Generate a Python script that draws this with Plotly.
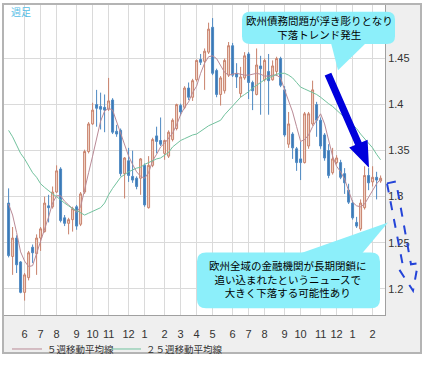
import plotly.graph_objects as go

# ---------------- data ----------------
open_ = [1.293,1.235,1.255,1.229,1.196,1.212,1.245,1.238,1.255,1.262,
         1.290,1.289,1.305,1.330,1.277,1.271,1.275,1.289,1.270,1.305,
         1.349,1.379,1.400,1.398,1.397,1.395,1.405,1.371,1.372,1.325,
         1.339,1.322,1.320,1.320,1.334,1.288,1.334,1.366,1.361,1.347,
         1.344,1.362,1.374,1.399,1.397,1.418,1.408,1.427,1.449,1.447,
         1.457,1.484,1.437,1.411,1.415,1.432,1.464,1.434,1.412,1.429,
         1.455,1.424,1.411,1.442,1.427,1.436,1.427,1.436,1.450,1.416,
         1.357,1.368,1.352,1.341,1.337,1.355,1.379,1.400,1.383,1.367,
         1.350,1.326,1.337,1.337,1.325,1.307,1.293,1.272,1.265,1.288,
         1.323,1.316,1.321,1.317]
high = [1.309,1.267,1.258,1.230,1.217,1.241,1.248,1.259,1.267,1.300,
        1.302,1.311,1.334,1.332,1.280,1.277,1.289,1.291,1.305,1.351,
        1.381,1.402,1.416,1.413,1.411,1.429,1.407,1.378,1.374,1.343,
        1.353,1.350,1.322,1.342,1.336,1.344,1.364,1.376,1.386,1.362,
        1.372,1.385,1.401,1.401,1.420,1.424,1.428,1.449,1.455,1.461,
        1.489,1.494,1.439,1.431,1.450,1.468,1.467,1.445,1.441,1.457,
        1.457,1.426,1.461,1.453,1.450,1.455,1.448,1.452,1.452,1.420,
        1.392,1.370,1.354,1.360,1.392,1.392,1.426,1.403,1.386,1.369,
        1.357,1.353,1.345,1.340,1.331,1.314,1.296,1.278,1.297,1.333,
        1.331,1.333,1.327,1.323]
low = [1.234,1.215,1.217,1.195,1.187,1.209,1.228,1.215,1.241,1.261,
       1.272,1.287,1.304,1.272,1.268,1.259,1.262,1.264,1.268,1.303,
       1.347,1.378,1.376,1.373,1.370,1.393,1.368,1.365,1.322,1.298,
       1.316,1.315,1.308,1.302,1.289,1.287,1.332,1.347,1.355,1.340,
       1.342,1.360,1.372,1.388,1.395,1.405,1.404,1.425,1.443,1.416,
       1.455,1.432,1.408,1.399,1.412,1.430,1.430,1.418,1.408,1.427,
       1.406,1.394,1.410,1.389,1.425,1.389,1.426,1.431,1.419,1.365,
       1.353,1.341,1.328,1.318,1.336,1.352,1.377,1.365,1.352,1.339,
       1.320,1.324,1.335,1.319,1.303,1.292,1.275,1.266,1.263,1.286,
       1.307,1.311,1.297,1.315]
close = [1.236,1.255,1.226,1.196,1.215,1.239,1.239,1.255,1.265,1.293,
         1.288,1.305,1.328,1.274,1.271,1.275,1.287,1.268,1.303,1.349,
         1.379,1.394,1.396,1.395,1.394,1.404,1.370,1.368,1.325,1.342,
         1.323,1.318,1.311,1.341,1.291,1.334,1.362,1.360,1.357,1.361,
         1.370,1.383,1.400,1.392,1.418,1.408,1.426,1.448,1.446,1.458,
         1.482,1.434,1.411,1.429,1.448,1.464,1.432,1.430,1.430,1.453,
         1.424,1.415,1.443,1.439,1.448,1.426,1.442,1.450,1.421,1.367,
         1.379,1.353,1.337,1.337,1.390,1.390,1.416,1.383,1.355,1.342,
         1.323,1.341,1.342,1.321,1.315,1.294,1.277,1.268,1.293,1.323,
         1.315,1.321,1.318,1.320]
ma5 = [1.292,1.280,1.261,1.240,1.230,1.224,1.225,1.238,1.251,1.265,
       1.278,1.293,1.301,1.301,1.295,1.291,1.287,1.283,1.289,1.306,
       1.326,1.344,1.365,1.382,1.393,1.396,1.394,1.382,1.369,1.358,
       1.344,1.335,1.327,1.322,1.320,1.326,1.339,1.346,1.354,1.358,
       1.364,1.369,1.378,1.389,1.397,1.403,1.413,1.420,1.434,1.445,
       1.452,1.453,1.450,1.442,1.435,1.432,1.433,1.434,1.433,1.432,
       1.432,1.433,1.434,1.433,1.431,1.431,1.432,1.432,1.429,1.416,
       1.403,1.392,1.376,1.360,1.362,1.367,1.376,1.383,1.390,1.379,
       1.360,1.344,1.333,1.327,1.319,1.307,1.294,1.290,1.289,1.292,
       1.299,1.307,1.314,1.319]
ma25 = [1.372,1.365,1.356,1.347,1.341,1.333,1.326,1.321,1.314,1.310,
        1.306,1.303,1.300,1.296,1.293,1.290,1.287,1.285,1.282,1.280,
        1.282,1.284,1.286,1.288,1.293,1.302,1.309,1.315,1.321,1.324,
        1.327,1.329,1.331,1.332,1.335,1.337,1.339,1.341,1.342,1.345,
        1.348,1.354,1.358,1.361,1.363,1.365,1.367,1.368,1.371,1.374,
        1.377,1.379,1.381,1.383,1.389,1.394,1.399,1.403,1.408,1.411,
        1.414,1.418,1.421,1.424,1.427,1.429,1.431,1.433,1.434,1.434,
        1.432,1.429,1.424,1.419,1.417,1.415,1.413,1.411,1.408,1.404,
        1.401,1.398,1.394,1.390,1.385,1.381,1.377,1.374,1.368,1.363,
        1.358,1.353,1.346,1.340]
month_labels = ["6","7","8","9","10","11","12","1","2","3","4","5",
                "6","7","8","9","10","11","12","1","2"]
month_start_week = [4,8,12,17,21,25,30,34,39,43,47,51,56,60,64,69,73,78,82,86,91]
price_ticks = [1.2, 1.25, 1.3, 1.35, 1.4, 1.45]
price_tick_text = ["1.2", "1.25", "1.3", "1.35", "1.4", "1.45"]
legend_names = ["５週移動平均線", "２５週移動平均線"]
note_top = ["欧州債務問題が浮き彫りとなり", "下落トレンド発生"]
note_bottom = ["欧州全域の金融機関が長期閉鎖に", "追い込まれたというニュースで", "大きく下落する可能性あり"]

weeks = list(range(len(close)))

# ---------------- geometry helpers ----------------
W, H = 427, 367
ML, MT, MR, MB = 3, 4, 42, 44
PW, PH = W - ML - MR, H - MT - MB


def px(x, y):
    return (x - ML) / PW, (H - MB - y) / PH


def path(points, close_path=True):
    s = ""
    for k, (x, y) in enumerate(points):
        a, b = px(x, y)
        s += ("M" if k == 0 else "L") + f"{a:.5f},{b:.5f} "
    return s + ("Z" if close_path else "")


def rounded(x0, y0, x1, y1, r):
    def P(x, y):
        a, b = px(x, y)
        return f"{a:.5f},{b:.5f}"
    s = "M" + P(x0 + r, y0) + " L" + P(x1 - r, y0) + " Q" + P(x1, y0) + " " + P(x1, y0 + r)
    s += " L" + P(x1, y1 - r) + " Q" + P(x1, y1) + " " + P(x1 - r, y1)
    s += " L" + P(x0 + r, y1) + " Q" + P(x0, y1) + " " + P(x0, y1 - r)
    s += " L" + P(x0, y0 + r) + " Q" + P(x0, y0) + " " + P(x0 + r, y0) + " Z"
    return s


CYAN = "#8ceffa"
fig = go.Figure()

fig.add_trace(go.Candlestick(
    x=weeks, open=open_, high=high, low=low, close=close,
    increasing=dict(line=dict(color="#c8826c", width=1), fillcolor="#f3d8cb"),
    decreasing=dict(line=dict(color="#4d88c2", width=1), fillcolor="#3a78b5"),
    whiskerwidth=0, showlegend=False, hoverinfo="skip"))
fig.add_trace(go.Scatter(x=weeks, y=ma5, mode="lines", name=legend_names[0], legend="legend",
                         line=dict(color="#b98a96", width=1)))
fig.add_trace(go.Scatter(x=weeks, y=ma25, mode="lines", name=legend_names[1], legend="legend2",
                         line=dict(color="#72c29e", width=1)))

shapes = []
# grey axis areas
for (x0, y0, x1, y1) in [(385, 4, 421, 362), (3, 323, 385, 362)]:
    a0, b0 = px(x0, y1)
    a1, b1 = px(x1, y0)
    shapes.append(dict(type="rect", xref="paper", yref="paper", x0=a0, y0=b0, x1=a1, y1=b1,
                       fillcolor="#efefef", line=dict(width=0), layer="below"))
# outer frame
a0, b0 = px(3, 362)
a1, b1 = px(421, 4)
shapes.append(dict(type="rect", xref="paper", yref="paper", x0=a0, y0=b0, x1=a1, y1=b1,
                   line=dict(color="#b4b4b4", width=2), fillcolor="rgba(0,0,0,0)", layer="above"))
# top callout
shapes.append(dict(type="path", xref="paper", yref="paper", path=rounded(242, 12, 395, 45, 8),
                   fillcolor=CYAN, line=dict(width=0), layer="above"))
shapes.append(dict(type="path", xref="paper", yref="paper",
                   path=path([(331, 44), (366, 44), (338, 72)]),
                   fillcolor=CYAN, line=dict(width=0), layer="above"))
# bottom callout
shapes.append(dict(type="path", xref="paper", yref="paper", path=rounded(197, 259, 380, 316, 9),
                   fillcolor=CYAN, line=dict(width=0), layer="above"))
shapes.append(dict(type="path", xref="paper", yref="paper",
                   path=path([(300, 260), (362, 260), (388, 228)]),
                   fillcolor=CYAN, line=dict(width=0), layer="above"))
# solid blue arrow
sx, sy, tx, ty = 328, 76, 369, 172
L = ((tx - sx) ** 2 + (ty - sy) ** 2) ** 0.5
dx, dy = (tx - sx) / L, (ty - sy) / L
nx, ny = dy, -dx
hl, hw, sw = 27, 10, 3.6
bx, by = tx - hl * dx, ty - hl * dy
arrow = [(sx + sw * nx, sy + sw * ny), (bx + sw * nx, by + sw * ny), (bx + hw * nx, by + hw * ny),
         (tx, ty), (bx - hw * nx, by - hw * ny), (bx - sw * nx, by - sw * ny), (sx - sw * nx, sy - sw * ny)]
shapes.append(dict(type="path", xref="paper", yref="paper", path=path(arrow),
                   fillcolor="#0000dc", line=dict(width=0), layer="above"))
# dashed arrow
dashed = [(387, 188), (396, 186), (411, 271), (418, 270), (413, 298), (399, 276), (403, 273)]
shapes.append(dict(type="path", xref="paper", yref="paper", path=path(dashed),
                   fillcolor="rgba(0,0,0,0)", line=dict(color="#2444d8", width=2, dash="dash"),
                   layer="above"))

annotations = []
jp = "Noto Sans CJK JP"
a, b = px(21, 12)
annotations.append(dict(xref="paper", yref="paper", x=a, y=b, text="週足", showarrow=False,
                        font=dict(family=jp, size=10, color="#55bde6"), xanchor="center", yanchor="middle"))
a, b = px(319, 28)
annotations.append(dict(xref="paper", yref="paper", x=a, y=b, text="<br>".join(note_top), showarrow=False,
                        font=dict(family=jp, size=10.5, color="#000"), align="center",
                        xanchor="center", yanchor="middle"))
a, b = px(288, 286)
annotations.append(dict(xref="paper", yref="paper", x=a, y=b, text="<br>".join(note_bottom), showarrow=False,
                        font=dict(family=jp, size=10.5, color="#000"), align="center",
                        xanchor="center", yanchor="middle"))

lx1, ly = px(7, 343)
lx2, _ = px(106, 343)
leg_common = dict(orientation="h", y=ly, xanchor="left", yanchor="top",
                  font=dict(family=jp, size=9.5, color="#333"), bgcolor="rgba(0,0,0,0)",
                  itemwidth=30, tracegroupgap=0)
fig.update_layout(
    width=W, height=H, margin=dict(l=ML, r=MR, t=MT, b=MB),
    paper_bgcolor="white", plot_bgcolor="white",
    shapes=shapes, annotations=annotations,
    showlegend=True,
    legend=dict(x=lx1, **leg_common),
    legend2=dict(x=lx2, **leg_common),
    xaxis=dict(range=[-1.4, 94.1], tickmode="array", tickvals=month_start_week, ticktext=month_labels,
               showgrid=True, gridcolor="#dadada", gridwidth=1, zeroline=False,
               showline=True, linecolor="#a0a0a0", linewidth=1,
               ticks="", ticklabelstandoff=9,
               tickfont=dict(family="Liberation Sans", size=11, color="#333"),
               rangeslider=dict(visible=False), fixedrange=True),
    yaxis=dict(range=[1.1714, 1.5093], side="right", tickmode="array", tickvals=price_ticks,
               ticktext=price_tick_text, showgrid=True, gridcolor="#dadada", gridwidth=1,
               zeroline=False, showline=True, linecolor="#a0a0a0", linewidth=1, ticks="",
               tickfont=dict(family="Liberation Sans", size=11, color="#333")),
)
fig.write_html("out.html")
